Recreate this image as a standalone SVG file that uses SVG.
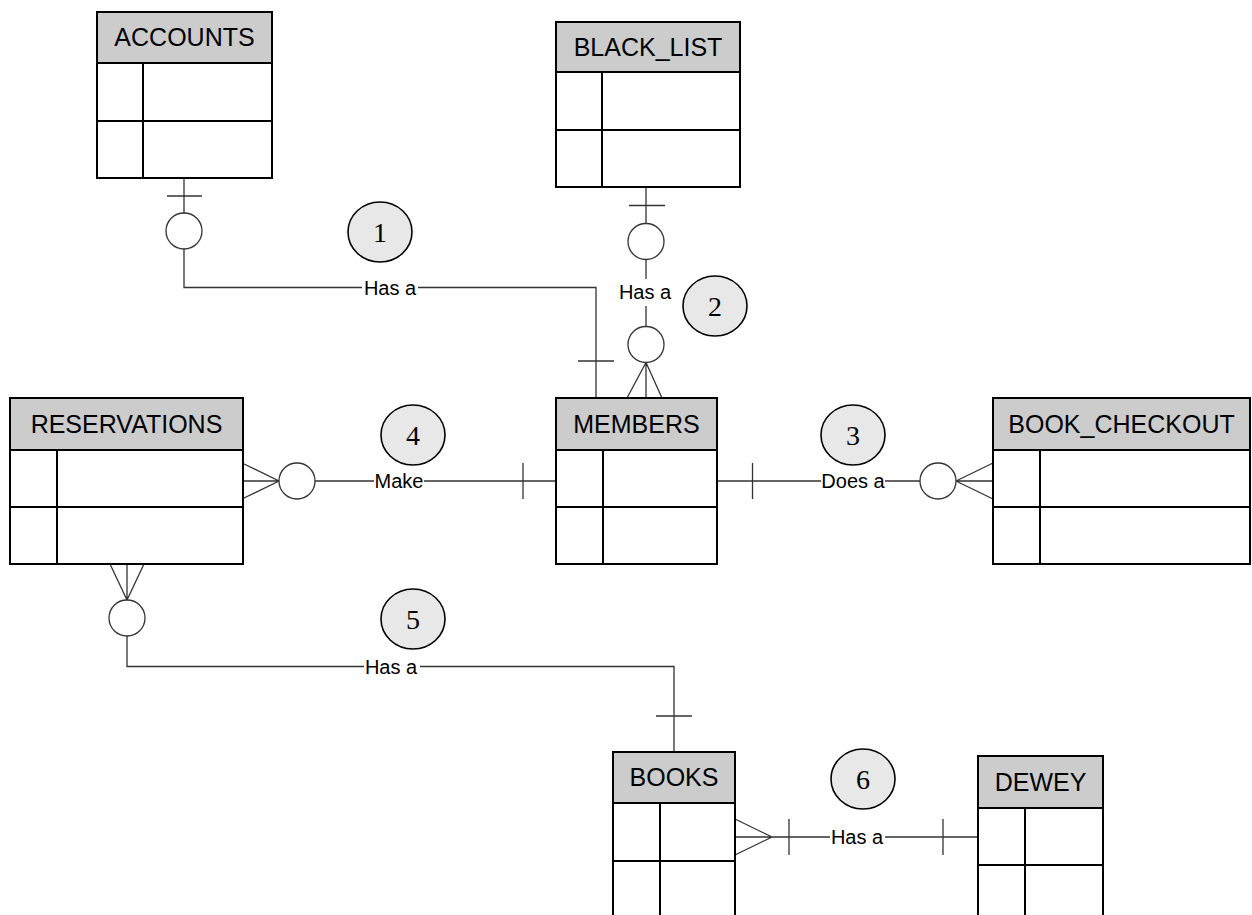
<svg xmlns="http://www.w3.org/2000/svg" width="1252" height="915" viewBox="0 0 1252 915">
<style>
.box{fill:#fff;stroke:#000;stroke-width:2}
.hdr{fill:#cccccc;stroke:#000;stroke-width:2}
.div{stroke:#000;stroke-width:2;fill:none}
.ht{font-family:"Liberation Sans",Arial,sans-serif;font-size:25px;fill:#000;text-anchor:middle}
.ln{stroke:#333;stroke-width:1.3;fill:none}
.oc{fill:#fff;stroke:#333;stroke-width:1.3}
.lbl{font-family:"Liberation Sans",Arial,sans-serif;font-size:20px;fill:#000;text-anchor:middle}
.lb{fill:#fff;stroke:none}
.num{fill:#e8e8e8;stroke:#000;stroke-width:1.6}
.nt{font-family:"Liberation Serif","Times New Roman",serif;font-size:28px;fill:#000;text-anchor:middle}
</style>
<rect width="1252" height="915" fill="#fff"/>
<g id="connectors">
  <!-- 1 ACCOUNTS - MEMBERS -->
  <path class="ln" d="M184,178 V287.5 H596 V398"/>
  <path class="ln" d="M167,196 H202 M578,361 H614"/>
  <circle class="oc" cx="184" cy="231" r="18"/>
  <rect class="lb" x="362" y="277" width="56" height="22"/>
  <text class="lbl" x="390" y="294.5">Has a</text>
  <!-- 2 BLACK_LIST - MEMBERS -->
  <path class="ln" d="M646,187 V398 M629,205.5 H665 M646,362.5 L627,398 M646,362.5 L662,398"/>
  <circle class="oc" cx="646" cy="241.5" r="18"/>
  <rect class="lb" x="618" y="279" width="56" height="27"/>
  <text class="lbl" x="645" y="299">Has a</text>
  <circle class="oc" cx="646" cy="344.5" r="18"/>
  <!-- 3 MEMBERS - BOOK_CHECKOUT -->
  <path class="ln" d="M717,481 H993 M752.5,463 V499 M956,481 L993,463 M956,481 L993,499"/>
  <rect class="lb" x="821" y="470" width="64" height="22"/>
  <text class="lbl" x="853" y="488">Does a</text>
  <circle class="oc" cx="938" cy="481" r="18"/>
  <!-- 4 RESERVATIONS - MEMBERS -->
  <path class="ln" d="M243,481 H556 M243,463.5 L279,481 L243,498.5 M523,463 V499"/>
  <circle class="oc" cx="297" cy="481" r="18"/>
  <rect class="lb" x="374" y="470" width="50" height="22"/>
  <text class="lbl" x="399" y="488">Make</text>
  <!-- 5 RESERVATIONS - BOOKS -->
  <path class="ln" d="M127,564 V666.5 H674 V752 M110,564 L127,600 L144,564 M656,716 H692"/>
  <circle class="oc" cx="127" cy="618" r="18"/>
  <rect class="lb" x="364" y="656" width="56" height="22"/>
  <text class="lbl" x="391" y="673.5">Has a</text>
  <!-- 6 BOOKS - DEWEY -->
  <path class="ln" d="M735,837 H978 M735,819 L772,837 L735,855 M789,819 V855 M943,819 V855"/>
  <rect class="lb" x="830" y="826" width="55" height="22"/>
  <text class="lbl" x="857" y="844">Has a</text>
</g>
<g id="num1"><ellipse class="num" cx="380" cy="232" rx="32" ry="30"/><text class="nt" x="380" y="242">1</text></g>
<g id="num2"><ellipse class="num" cx="715" cy="306" rx="32" ry="30"/><text class="nt" x="715" y="316">2</text></g>
<g id="num3"><ellipse class="num" cx="853" cy="435" rx="32" ry="30"/><text class="nt" x="853" y="445">3</text></g>
<g id="num4"><ellipse class="num" cx="413" cy="435" rx="32" ry="30"/><text class="nt" x="413" y="445">4</text></g>
<g id="num5"><ellipse class="num" cx="413" cy="619" rx="32" ry="30"/><text class="nt" x="413" y="629">5</text></g>
<g id="num6"><ellipse class="num" cx="863" cy="779" rx="32" ry="30"/><text class="nt" x="863" y="789">6</text></g>
<g id="accounts">
  <rect class="box" x="97" y="12" width="175" height="166"/>
  <rect class="hdr" x="97" y="12" width="175" height="51"/>
  <path class="div" d="M97,121 H272 M143,63 V178"/>
  <text class="ht" x="184.5" y="46">ACCOUNTS</text>
</g>
<g id="black_list">
  <rect class="box" x="556" y="22" width="184" height="165"/>
  <rect class="hdr" x="556" y="22" width="184" height="50"/>
  <path class="div" d="M556,130 H740 M602,72 V187"/>
  <text class="ht" x="648" y="56">BLACK_LIST</text>
</g>
<g id="reservations">
  <rect class="box" x="10" y="398" width="233" height="166"/>
  <rect class="hdr" x="10" y="398" width="233" height="52"/>
  <path class="div" d="M10,507 H243 M57,450 V564"/>
  <text class="ht" x="126.5" y="432.5">RESERVATIONS</text>
</g>
<g id="members">
  <rect class="box" x="556" y="398" width="161" height="166"/>
  <rect class="hdr" x="556" y="398" width="161" height="52"/>
  <path class="div" d="M556,507 H717 M603,450 V564"/>
  <text class="ht" x="636.5" y="432.5">MEMBERS</text>
</g>
<g id="book_checkout">
  <rect class="box" x="993" y="398" width="257" height="166"/>
  <rect class="hdr" x="993" y="398" width="257" height="52"/>
  <path class="div" d="M993,507 H1250 M1040,450 V564"/>
  <text class="ht" x="1121.5" y="432.5">BOOK_CHECKOUT</text>
</g>
<g id="books">
  <rect class="box" x="613" y="752" width="122" height="175"/>
  <rect class="hdr" x="613" y="752" width="122" height="51"/>
  <path class="div" d="M613,861 H735 M660,803 V927"/>
  <text class="ht" x="674" y="786">BOOKS</text>
</g>
<g id="dewey">
  <rect class="box" x="978" y="756" width="125" height="175"/>
  <rect class="hdr" x="978" y="756" width="125" height="52"/>
  <path class="div" d="M978,865 H1103 M1025,808 V931"/>
  <text class="ht" x="1040.5" y="790.5">DEWEY</text>
</g>
</svg>
